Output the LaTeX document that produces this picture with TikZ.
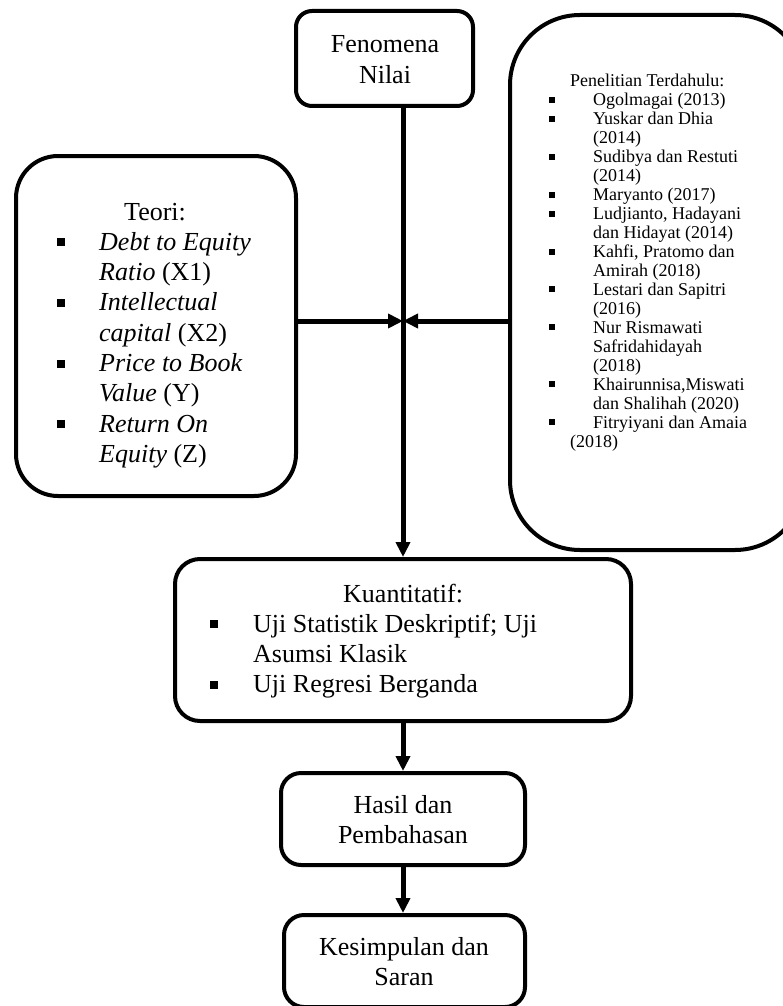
\documentclass[tikz,border=0pt]{standalone}
\usepackage{fontspec}
\setmainfont{Liberation Serif}
\usetikzlibrary{arrows.meta}
\newcommand{\sqbig}{\rule[4pt]{8pt}{8pt}}
\newcommand{\sqsml}{\rule[3pt]{6pt}{6pt}}
\begin{document}
\begin{tikzpicture}[x=1pt, y=-1pt,
  box/.style={draw, line width=4pt, inner sep=0pt},
  txt/.style={inner sep=0pt, anchor=base west},
  mid/.style={inner sep=0pt, anchor=base},
  big/.style={font=\fontsize{26}{30.3}\selectfont},
  sml/.style={font=\fontsize{18}{18.95}\selectfont},
  arr/.style={line width=5pt, -{Triangle[length=15pt,width=14pt]}}]
  \useasboundingbox (0,0) rectangle (782,1006);
  % kotak-kotak (tengah garis tepi, satuan piksel, y ke bawah)
  \node[box, rounded corners=16pt, minimum width=177pt, minimum height=95pt] (fen) at (384.5,58.5) {};
  \node[box, rounded corners=42pt, minimum width=280pt, minimum height=340pt] (teori) at (156,326) {};
  \node[box, rounded corners=70pt, minimum width=295pt, minimum height=535pt] (pen) at (657.5,282.5) {};
  \node[box, rounded corners=25pt, minimum width=456pt, minimum height=162pt] (kuan) at (403,640) {};
  \node[box, rounded corners=20pt, minimum width=244pt, minimum height=92pt] (hasil) at (403,819) {};
  \node[box, rounded corners=20pt, minimum width=241pt, minimum height=92pt] (kes) at (404.5,961) {};
  % isi teks
  \node[mid, big] (fentxt) at (385,53) {\begin{tabular}[t]{@{}c@{}}Fenomena\\Nilai\end{tabular}};
  \node[txt, big] (teoritxt) at (57,220) {\begin{tabular}[t]{@{}p{42pt}@{}l@{}}
    \multicolumn{2}{@{}l@{}}{\hspace{67pt}Teori:}\\
    \sqbig & \textit{Debt to Equity}\\
           & \textit{Ratio} (X1)\\
    \sqbig & \textit{Intellectual}\\
           & \textit{capital} (X2)\\
    \sqbig & \textit{Price to Book}\\
           & \textit{Value} (Y)\\
    \sqbig & \textit{Return On}\\
           & \textit{Equity} (Z)
  \end{tabular}};
  \node[txt, sml] (pentxt) at (549,87) {\begin{tabular}[t]{@{}p{44pt}@{}l@{}}
    \multicolumn{2}{@{}l@{}}{\hspace{21pt}Penelitian Terdahulu:}\\
    \sqsml & Ogolmagai (2013)\\
    \sqsml & Yuskar dan Dhia\\
           & (2014)\\
    \sqsml & Sudibya dan Restuti\\
           & (2014)\\
    \sqsml & Maryanto (2017)\\
    \sqsml & Ludjianto, Hadayani\\
           & dan Hidayat (2014)\\
    \sqsml & Kahfi, Pratomo dan\\
           & Amirah (2018)\\
    \sqsml & Lestari dan Sapitri\\
           & (2016)\\
    \sqsml & Nur Rismawati\\
           & Safridahidayah\\
           & (2018)\\
    \sqsml & Khairunnisa,Miswati\\
           & dan Shalihah (2020)\\
    \sqsml & Fitryiyani dan Amaia\\
    \multicolumn{2}{@{}l@{}}{\hspace{21pt}(2018)}
  \end{tabular}};
  \node[txt, big] (kuantxt) at (210,602) {\begin{tabular}[t]{@{}p{43pt}@{}l@{}}
    \multicolumn{2}{@{}l@{}}{\hspace{133pt}Kuantitatif:}\\
    \sqbig & Uji Statistik Deskriptif; Uji\\
           & Asumsi Klasik\\
    \sqbig & Uji Regresi Berganda
  \end{tabular}};
  \node[mid, big] (hasiltxt) at (403,813) {\begin{tabular}[t]{@{}c@{}}Hasil dan\\Pembahasan\end{tabular}};
  \node[mid, big] (kestxt) at (404,955) {\begin{tabular}[t]{@{}c@{}}Kesimpulan dan\\Saran\end{tabular}};
  % panah
  \coordinate (temu) at (403,321);
  \draw[arr] (kuan.north |- fen.south) -- (kuan.north);
  \draw[arr] (teori.east |- temu) -- (temu);
  \draw[arr] (pen.west |- temu) -- (temu);
  \draw[arr] (kuan.south) -- (hasil.north);
  \draw[arr] (hasil.south) -- (hasil.south |- kes.north);
\end{tikzpicture}
\end{document}
